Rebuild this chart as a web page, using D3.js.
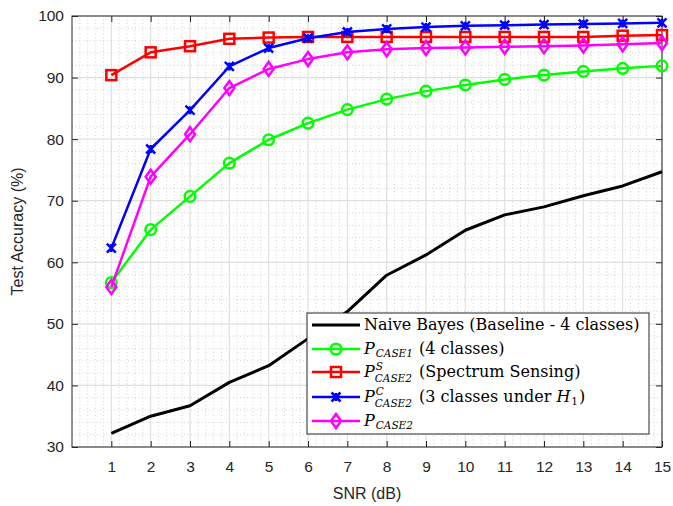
<!DOCTYPE html>
<html>
<head>
<meta charset="utf-8">
<script src="https://cdn.jsdelivr.net/npm/d3@7"></script>
<style>
  body { margin: 0; background: #fff; }
  svg { display: block; }
</style>
</head>
<body>
<svg id="chart" width="673" height="506"></svg>
<script>
// SNR values (dB)
const snr = [1, 2, 3, 4, 5, 6, 7, 8, 9, 10, 11, 12, 13, 14, 15];

// Test accuracy (%) per method
const naiveBayes = [32.2, 35.0, 36.7, 40.5, 43.2, 47.6, 52.0, 57.9, 61.2, 65.2, 67.7, 69.0, 70.8, 72.4, 74.7];
const pCase1     = [56.7, 65.3, 70.7, 76.1, 79.9, 82.6, 84.8, 86.5, 87.8, 88.8, 89.7, 90.4, 91.0, 91.5, 91.9];
const pCase2S    = [90.4, 94.1, 95.1, 96.3, 96.5, 96.6, 96.6, 96.6, 96.6, 96.6, 96.6, 96.6, 96.6, 96.8, 96.9];
const pCase2C    = [62.3, 78.4, 84.7, 91.8, 94.8, 96.4, 97.4, 97.9, 98.2, 98.4, 98.5, 98.6, 98.7, 98.8, 98.9];
const pCase2     = [56.0, 73.9, 80.8, 88.3, 91.4, 93.0, 94.1, 94.6, 94.8, 94.9, 95.0, 95.1, 95.2, 95.4, 95.6];

const xTicks = [1, 2, 3, 4, 5, 6, 7, 8, 9, 10, 11, 12, 13, 14, 15];
const yTicks = [30, 40, 50, 60, 70, 80, 90, 100];

const series = [
  { name: "nb",  values: naiveBayes, color: "#000000", marker: "none",    width: 3 },
  { name: "c1",  values: pCase1,     color: "#00ff00", marker: "circle",  width: 2.5 },
  { name: "c2s", values: pCase2S,    color: "#ff0000", marker: "square",  width: 2.5 },
  { name: "c2c", values: pCase2C,    color: "#0000ff", marker: "cross",   width: 2.5 },
  { name: "c2",  values: pCase2,     color: "#ff00ff", marker: "diamond", width: 2.5 }
];

const svg = d3.select("#chart");
const L = 72, R = 662, T = 16, B = 447;

const x = d3.scaleLinear().domain([0, 15]).range([L, R]);
const y = d3.scaleLinear().domain([30, 100]).range([B, T]);

const g = svg.append("g");

// minor grid (dotted)
const xMinor = d3.range(0, 15.0001, 0.2).filter(v => Math.abs(v - Math.round(v)) > 1e-6);
const yMinor = d3.range(30, 100.0001, 2).filter(v => v % 10 !== 0);
g.append("g").selectAll("line").data(xMinor).join("line")
  .attr("x1", d => x(d)).attr("x2", d => x(d)).attr("y1", T).attr("y2", B)
  .attr("stroke", "#c8c8c8").attr("stroke-width", 0.8).attr("stroke-dasharray", "1,2.5");
g.append("g").selectAll("line").data(yMinor).join("line")
  .attr("x1", L).attr("x2", R).attr("y1", d => y(d)).attr("y2", d => y(d))
  .attr("stroke", "#c8c8c8").attr("stroke-width", 0.8).attr("stroke-dasharray", "1,2.5");

// major grid
g.append("g").selectAll("line").data(xTicks).join("line")
  .attr("x1", d => x(d)).attr("x2", d => x(d)).attr("y1", T).attr("y2", B)
  .attr("stroke", "#e0e0e0").attr("stroke-width", 1.2);
g.append("g").selectAll("line").data(yTicks).join("line")
  .attr("x1", L).attr("x2", R).attr("y1", d => y(d)).attr("y2", d => y(d))
  .attr("stroke", "#e0e0e0").attr("stroke-width", 1.2);

// axes with inward ticks on all four sides
const axisColor = "#262626";
const fontSans = "'Liberation Sans', Arial, sans-serif";
function styleAxis(sel, showText) {
  sel.select(".domain").remove();
  sel.selectAll(".tick line").attr("stroke", axisColor).attr("stroke-width", 1);
  sel.selectAll(".tick text").attr("fill", axisColor)
    .style("font-family", fontSans).style("font-size", "15.5px");
  if (!showText) sel.selectAll(".tick text").remove();
}
svg.append("g").attr("transform", `translate(0,${B})`)
  .call(d3.axisBottom(x).tickValues(xTicks).tickSize(-6).tickPadding(14).tickFormat(d3.format("d")))
  .call(s => styleAxis(s, true));
svg.append("g").attr("transform", `translate(0,${T})`)
  .call(d3.axisTop(x).tickValues(xTicks).tickSize(-6))
  .call(s => styleAxis(s, false));
svg.append("g").attr("transform", `translate(${L},0)`)
  .call(d3.axisLeft(y).tickValues(yTicks).tickSize(-6).tickPadding(8).tickFormat(d3.format("d")))
  .call(s => styleAxis(s, true));
svg.append("g").attr("transform", `translate(${R},0)`)
  .call(d3.axisRight(y).tickValues(yTicks).tickSize(-6))
  .call(s => styleAxis(s, false));

svg.append("rect").attr("x", L).attr("y", T).attr("width", R - L).attr("height", B - T)
  .attr("fill", "none").attr("stroke", axisColor).attr("stroke-width", 1);

// axis titles
svg.append("text").attr("x", (L + R) / 2).attr("y", 499).attr("text-anchor", "middle")
  .attr("fill", axisColor).style("font-family", fontSans).style("font-size", "16px").text("SNR (dB)");
svg.append("text").attr("transform", `translate(23,${(T + B) / 2}) rotate(-90)`).attr("text-anchor", "middle")
  .attr("fill", axisColor).style("font-family", fontSans).style("font-size", "16px").text("Test Accuracy (%)");

// marker drawing
function drawMarker(sel, type, color) {
  if (type === "circle") {
    sel.append("circle").attr("r", 5.3).attr("fill", "none").attr("stroke", color).attr("stroke-width", 2.5);
  } else if (type === "square") {
    sel.append("rect").attr("x", -5).attr("y", -5).attr("width", 10).attr("height", 10)
      .attr("fill", "none").attr("stroke", color).attr("stroke-width", 2.5);
  } else if (type === "diamond") {
    sel.append("path").attr("d", "M0,-7L5,0L0,7L-5,0Z")
      .attr("fill", "none").attr("stroke", color).attr("stroke-width", 2.5);
  } else if (type === "cross") {
    sel.append("path").attr("d", "M-4.5,-4.5L4.5,4.5M-4.5,4.5L4.5,-4.5M0,-4L0,4")
      .attr("fill", "none").attr("stroke", color).attr("stroke-width", 2.5);
  }
}

// series lines and markers
const line = d3.line().x((d, i) => x(snr[i])).y(d => y(d));
series.forEach(s => {
  const sg = svg.append("g");
  sg.append("path").datum(s.values).attr("d", line)
    .attr("fill", "none").attr("stroke", s.color).attr("stroke-width", s.width)
    .attr("stroke-linejoin", "round");
  if (s.marker !== "none") {
    s.values.forEach((v, i) => {
      const m = sg.append("g").attr("transform", `translate(${x(snr[i])},${y(v)})`);
      drawMarker(m, s.marker, s.color);
    });
  }
});

// legend
const lg = svg.append("g");
lg.append("rect").attr("x", 307).attr("y", 313).attr("width", 342).attr("height", 121)
  .attr("fill", "#fff").attr("stroke", axisColor).attr("stroke-width", 1);
const fontSerif = "'DejaVu Serif', 'Liberation Serif', serif";
const mainSize = 16, scriptSize = 10.5;
// each row is a list of pieces; a piece may carry a stacked superscript/subscript pair
const legendRows = [
  [{ t: "Naive Bayes (Baseline - 4 classes)" }],
  [{ t: "P", it: true }, { sub: "CASE1" }, { t: " (4 classes)" }],
  [{ t: "P", it: true }, { sup: "S", sub: "CASE2" }, { t: " (Spectrum Sensing)" }],
  [{ t: "P", it: true }, { sup: "C", sub: "CASE2" }, { t: " (3 classes under " }, { t: "H", it: true }, { sub: "1", upright: true }, { t: ")" }],
  [{ t: "P", it: true }, { sub: "CASE2" }]
];
const rowY = [325, 349, 372, 397, 421];
legendRows.forEach((pieces, k) => {
  const s = series[k];
  const yy = rowY[k];
  const base = yy + 5;
  lg.append("line").attr("x1", 312).attr("x2", 360).attr("y1", yy).attr("y2", yy)
    .attr("stroke", s.color).attr("stroke-width", s.width);
  if (s.marker !== "none") {
    drawMarker(lg.append("g").attr("transform", `translate(336,${yy})`), s.marker, s.color);
  }
  let cx = 364;
  pieces.forEach(p => {
    if (p.t !== undefined) {
      const el = lg.append("text").attr("x", cx).attr("y", base).attr("fill", "#000")
        .style("font-family", fontSerif).style("font-size", mainSize + "px")
        .style("white-space", "pre").attr("xml:space", "preserve")
        .style("font-style", p.it ? "italic" : "normal").text(p.t);
      cx += el.node().getComputedTextLength() + (p.it ? 1 : 0);
    } else {
      let w = 0;
      const stacked = p.sup !== undefined;
      if (stacked) {
        const sp = lg.append("text").attr("x", cx).attr("y", base - 7.5).attr("fill", "#000")
          .style("font-family", fontSerif).style("font-size", scriptSize + "px")
          .style("font-style", "italic").text(p.sup);
        w = Math.max(w, sp.node().getComputedTextLength());
      }
      const sb = lg.append("text").attr("x", cx - (stacked ? 1 : 0)).attr("y", base + (stacked ? 5 : 3))
        .attr("fill", "#000")
        .style("font-family", fontSerif).style("font-size", scriptSize + "px")
        .style("font-style", p.upright ? "normal" : "italic").text(p.sub);
      w = Math.max(w, sb.node().getComputedTextLength());
      cx += w + 1;
    }
  });
});
</script>
</body>
</html>
